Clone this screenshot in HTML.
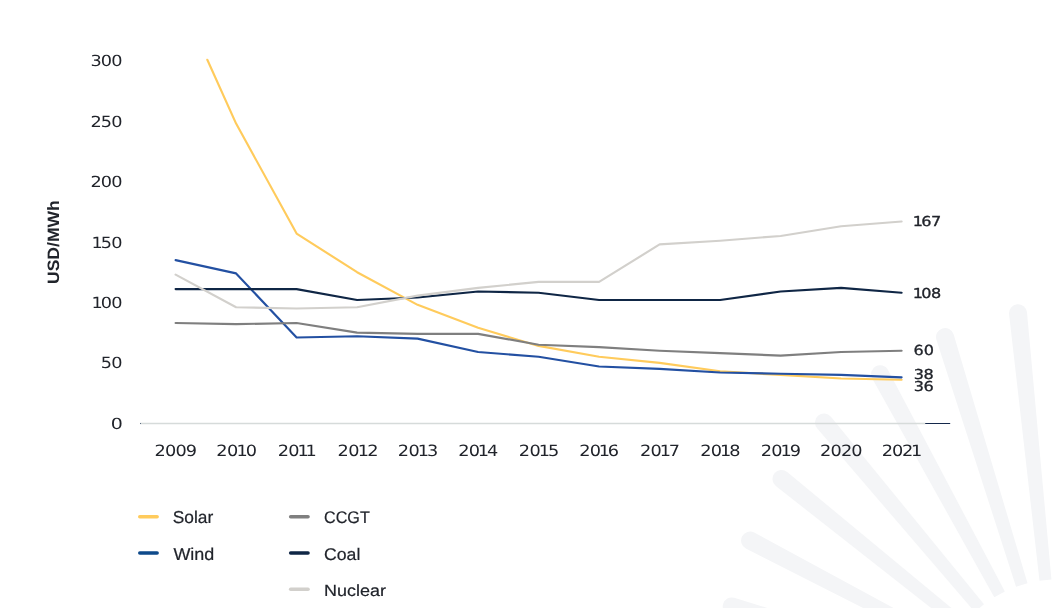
<!DOCTYPE html>
<html lang="en"><head><meta charset="utf-8"><title>Levelized cost of energy</title>
<style>
html,body{margin:0;padding:0;background:#fff;}
body{width:1064px;height:608px;overflow:hidden;}
svg{display:block;will-change:transform;}
svg text{text-rendering:geometricPrecision;}
.num{font-family:"DejaVu Sans","Liberation Sans",sans-serif;font-size:15.40px;fill:#21242b;}
.val{font-family:"DejaVu Sans","Liberation Sans",sans-serif;font-size:14.00px;fill:#21242b;stroke:#21242b;stroke-width:0.32;}
.leg{font-family:"Liberation Sans",sans-serif;font-size:17.6px;fill:#21242b;stroke:#21242b;stroke-width:0.20;}
.ttl{font-family:"Liberation Sans",sans-serif;font-size:17px;font-weight:700;fill:#21242b;}

.ln{fill:none;stroke-width:2.15;stroke-linejoin:round;stroke-linecap:round;}
.sw{fill:none;stroke-width:3.5;stroke-linecap:round;}
</style></head><body>
<svg width="1064" height="608" viewBox="0 0 1064 608" role="img" aria-label="Levelized cost of energy by technology, USD per MWh, 2009 to 2021">
<rect width="1064" height="608" fill="#ffffff"/>
<g fill="#f4f5f7">
<path d="M1051.44 579.53L1026.95 312.08A9.0 9.0 0 0 0 1009.05 313.92L1039.50 580.76Z"/>
<path d="M1027.50 583.21L953.60 334.34A9.0 9.0 0 0 0 936.40 339.66L1016.04 586.75Z"/>
<path d="M1004.84 591.47L887.91 369.71A9.0 9.0 0 0 0 872.09 378.29L994.30 597.19Z"/>
<path d="M983.96 604.22L830.90 416.72A9.0 9.0 0 0 0 817.10 428.28L974.76 611.92Z"/>
<path d="M966.41 620.43L787.15 471.99A9.0 9.0 0 0 0 775.85 486.01L958.88 629.77Z"/>
<path d="M952.30 639.80L754.18 532.53A9.0 9.0 0 0 0 745.82 548.47L946.72 650.43Z"/>
<path d="M942.13 661.80L734.23 597.76A9.0 9.0 0 0 0 729.17 615.04L938.75 673.32Z"/>
</g>
<line x1="140" y1="423.45" x2="925.3" y2="423.45" stroke="#d6dbda" stroke-width="1.5"/>
<rect x="140" y="423" width="1" height="1" fill="#5d6c83"/>
<line x1="925.6" y1="423.5" x2="949.8" y2="423.5" stroke="#14284b" stroke-width="1" stroke-linecap="round"/>
<text class="num" transform="translate(90.45 66.35) scale(1.1500 0.9957)" dx="0.00 -0.77 -0.77">300</text>
<text class="num" transform="translate(90.55 126.77) scale(1.1500 0.9957)" dx="0.00 -0.82 -0.82">250</text>
<text class="num" transform="translate(90.55 187.18) scale(1.1500 0.9957)" dx="0.00 -0.82 -0.82">200</text>
<text class="num" transform="translate(91.53 247.60) scale(1.1500 0.9957)" dx="0.00 -1.76 -0.72">150</text>
<text class="num" transform="translate(91.53 308.02) scale(1.1500 0.9957)" dx="0.00 -1.76 -0.72">100</text>
<text class="num" transform="translate(100.75 368.43) scale(1.1500 0.9957)" dx="0.00 -0.75">50</text>
<text class="num" transform="translate(110.67 428.85) scale(1.2323 0.9957)">0</text>
<text class="num" transform="translate(154.60 456.35) scale(1.1500 1.0085)" dx="0.00 -0.75 -0.75 -0.75">2009</text>
<text class="num" transform="translate(216.35 456.35) scale(1.1500 1.0085)" dx="0.00 -0.56 -1.61 -1.61">2010</text>
<text class="num" transform="translate(277.85 456.35) scale(1.1500 1.0085)" dx="0.00 -0.77 -1.82 -2.86">2011</text>
<text class="num" transform="translate(337.60 456.35) scale(1.1500 1.0085)" dx="0.00 -0.47 -1.51 -1.51">2012</text>
<text class="num" transform="translate(397.85 456.35) scale(1.1500 1.0085)" dx="0.00 -0.62 -1.67 -1.67">2013</text>
<text class="num" transform="translate(458.35 456.35) scale(1.1500 1.0085)" dx="0.00 -0.79 -1.83 -1.83">2014</text>
<text class="num" transform="translate(518.85 456.35) scale(1.1500 1.0085)" dx="0.00 -0.62 -1.67 -1.67">2015</text>
<text class="num" transform="translate(579.35 456.35) scale(1.1500 1.0085)" dx="0.00 -0.85 -1.89 -1.89">2016</text>
<text class="num" transform="translate(640.10 456.35) scale(1.1500 1.0085)" dx="0.00 -0.77 -1.81 -1.81">2017</text>
<text class="num" transform="translate(700.35 456.35) scale(1.1500 1.0085)" dx="0.00 -0.71 -1.75 -1.75">2018</text>
<text class="num" transform="translate(760.85 456.35) scale(1.1500 1.0085)" dx="0.00 -0.71 -1.75 -1.75">2019</text>
<text class="num" transform="translate(820.10 456.35) scale(1.1500 1.0085)" dx="0.00 -0.75 -0.75 -0.75">2020</text>
<text class="num" transform="translate(881.85 456.35) scale(1.1500 1.0085)" dx="0.00 -1.03 -1.03 -2.08">2021</text>
<text class="ttl" transform="translate(59.42 284.03) rotate(-90) scale(1.0322 0.9692)">USD/MWh</text>
<polyline class="ln" stroke="#ffcb5c" points="207.32,59.78 236.10,123.58 296.60,233.54 357.10,272.21 417.60,304.83 478.10,327.79 538.60,345.92 599.10,356.79 659.60,362.83 720.10,371.29 780.60,374.92 841.10,378.54 901.60,379.75"/>
<polyline class="ln" stroke="#2350a2" points="175.60,260.12 236.10,273.42 296.60,337.46 357.10,336.25 417.60,338.67 478.10,351.96 538.60,356.79 599.10,366.46 659.60,368.88 720.10,372.50 780.60,373.71 841.10,374.92 901.60,377.33"/>
<polyline class="ln" stroke="#7f7f7f" points="175.60,322.96 236.10,324.17 296.60,322.96 357.10,332.62 417.60,333.83 478.10,333.83 538.60,344.71 599.10,347.12 659.60,350.75 720.10,353.17 780.60,355.58 841.10,351.96 901.60,350.75"/>
<polyline class="ln" stroke="#0f2645" points="175.60,289.12 236.10,289.12 296.60,289.12 357.10,300.00 417.60,297.46 478.10,291.54 538.60,292.75 599.10,300.00 659.60,300.00 720.10,300.00 780.60,291.54 841.10,287.92 901.60,292.75"/>
<polyline class="ln" stroke="#d2d0cc" points="175.60,274.62 236.10,307.25 296.60,308.46 357.10,307.25 417.60,295.65 478.10,287.92 538.60,281.88 599.10,281.88 659.60,244.42 720.10,240.79 780.60,235.96 841.10,226.29 901.60,221.46"/>
<text class="val" transform="translate(912.66 225.71) scale(1.1500 0.9778)" dx="0.00 -1.42 -0.47">167</text>
<text class="val" transform="translate(912.66 297.71) scale(1.1500 0.9778)" dx="0.00 -1.37 -0.42">108</text>
<text class="val" transform="translate(913.44 354.71) scale(1.1500 0.9867)" dx="0.00 0.11">60</text>
<text class="val" transform="translate(913.74 378.91) scale(1.1500 0.9778)" dx="0.00 -0.34">38</text>
<text class="val" transform="translate(913.74 390.61) scale(1.1500 0.9778)" dx="0.00 -0.33">36</text>
<text class="leg" transform="translate(172.76 522.95) scale(0.9839 0.9811)">Solar</text>
<text class="leg" transform="translate(173.40 559.75) scale(1.0217 0.9811)">Wind</text>
<text class="leg" transform="translate(324.06 522.96) scale(0.9173 0.9569)">CCGT</text>
<text class="leg" transform="translate(324.00 559.86) scale(1.0043 0.9585)">Coal</text>
<text class="leg" transform="translate(324.02 596.17) scale(1.0211 0.9132)">Nuclear</text>
<line class="sw" stroke="#ffcb5c" x1="139.75" y1="516.70" x2="157.15" y2="516.70"/>
<line class="sw" stroke="#0e4a8b" x1="139.75" y1="552.90" x2="157.15" y2="552.90"/>
<line class="sw" stroke="#7f7f7f" x1="290.65" y1="516.70" x2="308.05" y2="516.70"/>
<line class="sw" stroke="#0f2645" x1="290.65" y1="552.90" x2="308.05" y2="552.90"/>
<line class="sw" stroke="#d2d0cc" x1="290.65" y1="589.30" x2="308.05" y2="589.30"/>
</svg></body></html>
